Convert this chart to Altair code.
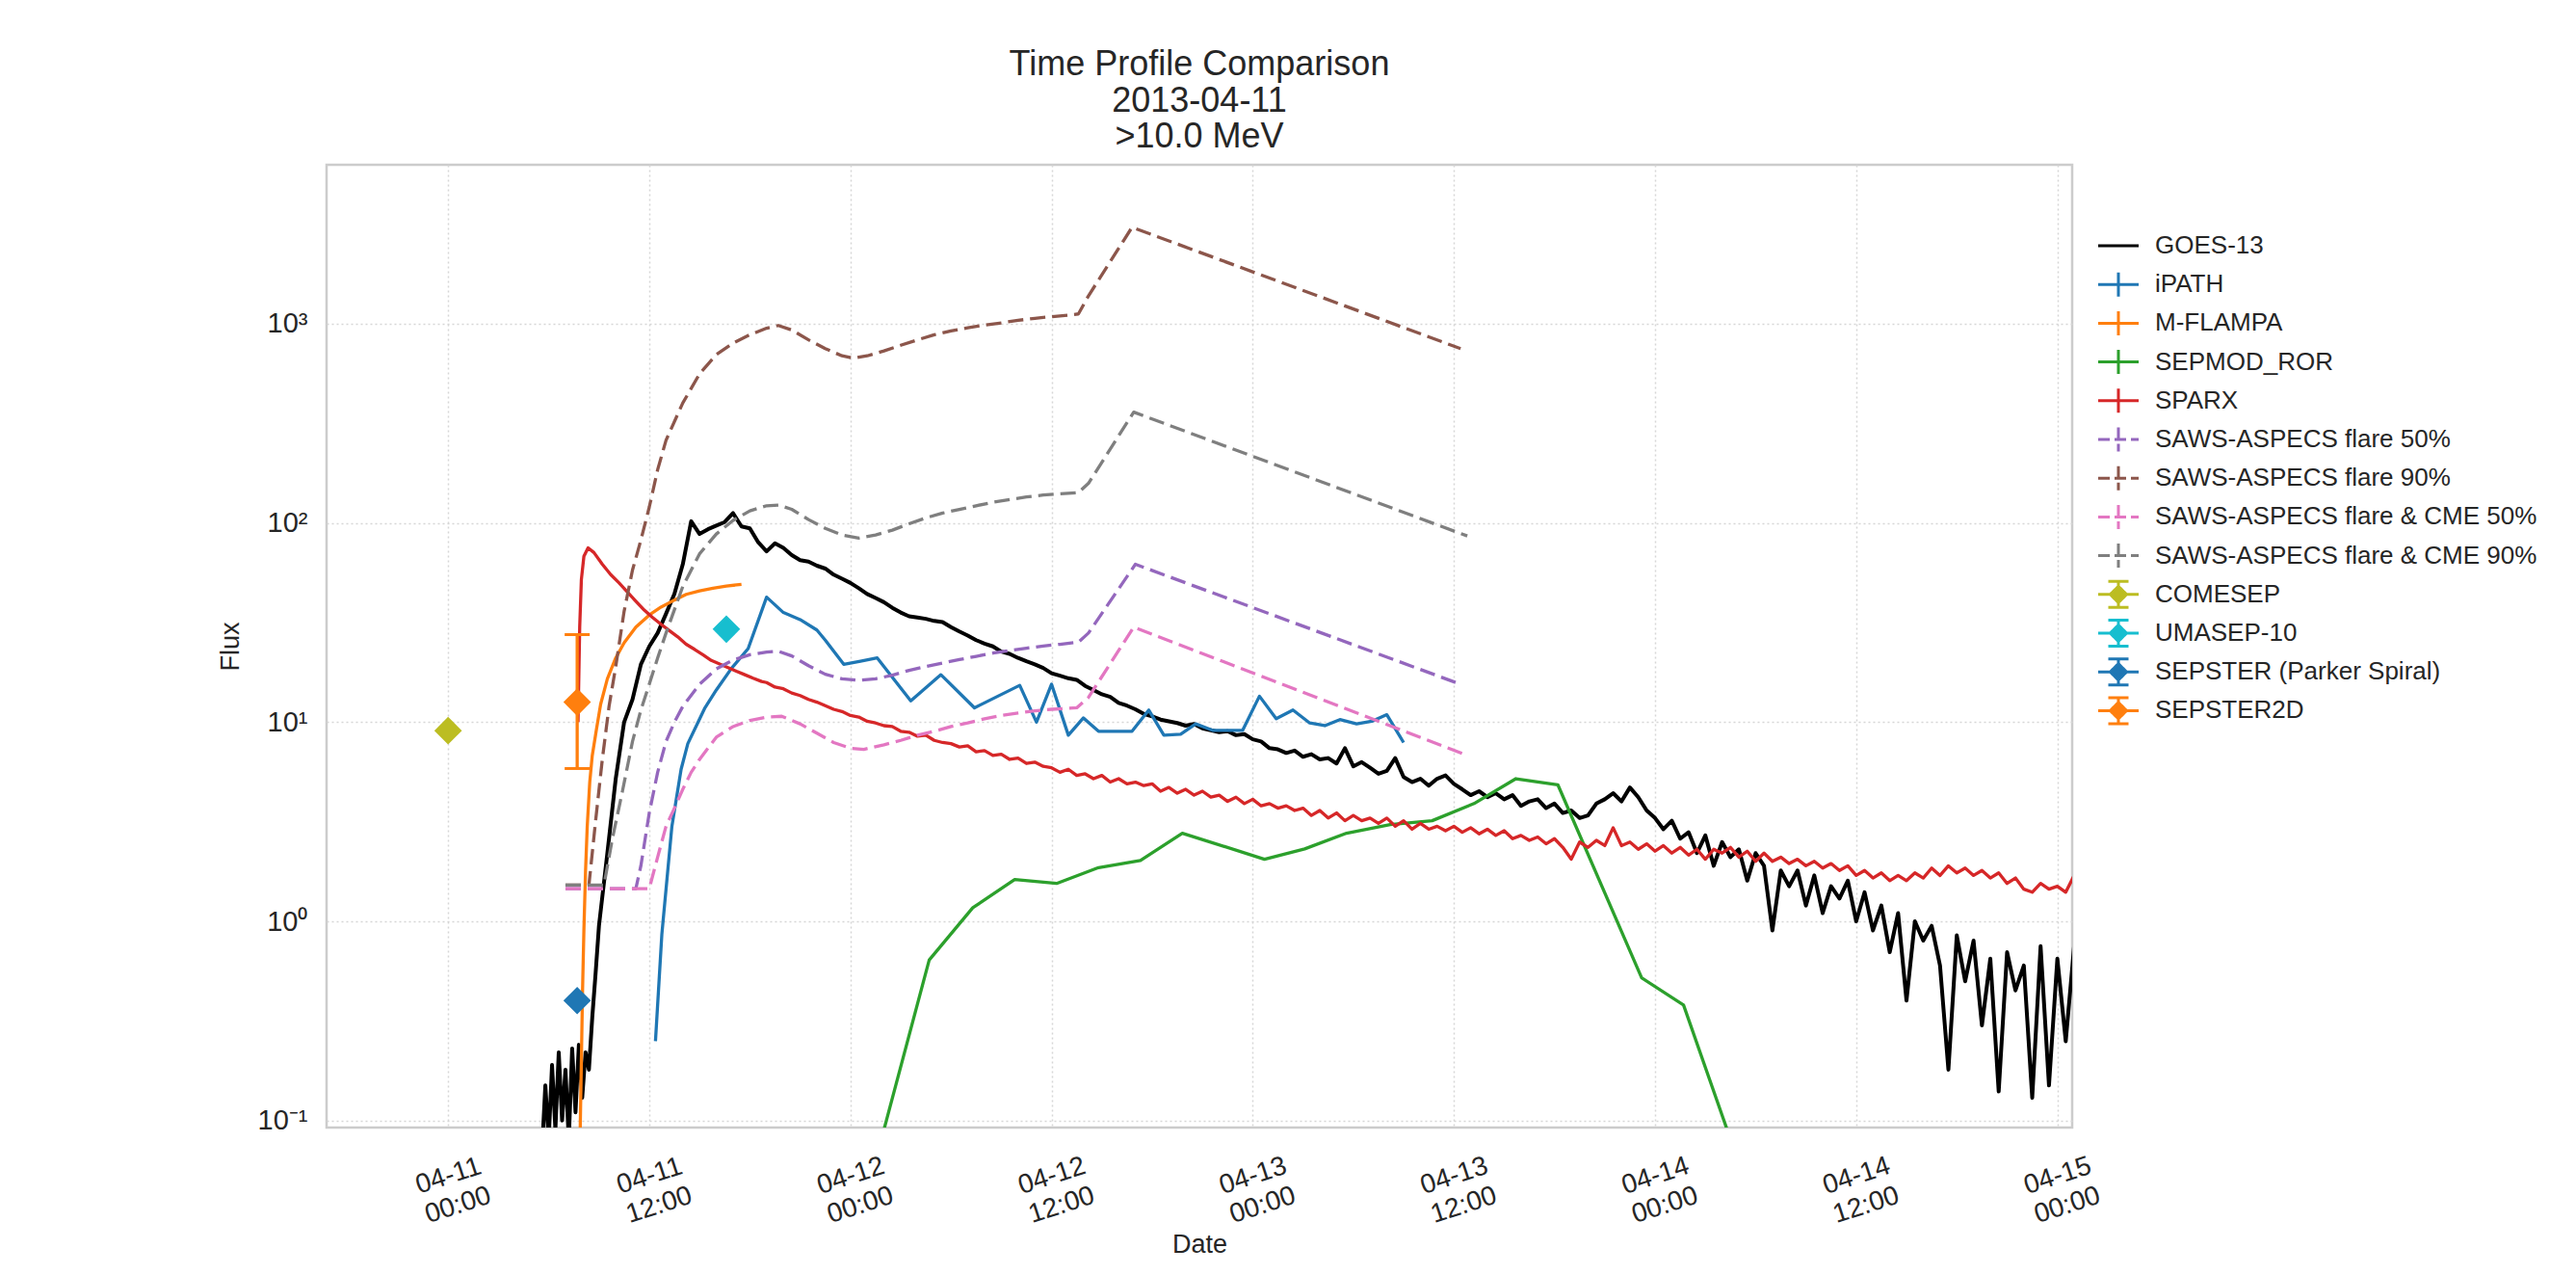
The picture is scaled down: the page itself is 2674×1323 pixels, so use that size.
import altair as alt
import pandas as pd

FONT = "Liberation Sans, Arial, Helvetica, sans-serif"
TXT = "#262626"
T0 = pd.Timestamp("2013-04-11 00:00:00")

SERIES = ["GOES-13", "iPATH", "M-FLAMPA", "SEPMOD_ROR", "SPARX",
          "SAWS-ASPECS flare 50%", "SAWS-ASPECS flare 90%",
          "SAWS-ASPECS flare & CME 50%", "SAWS-ASPECS flare & CME 90%",
          "COMESEP", "UMASEP-10", "SEPSTER (Parker Spiral)", "SEPSTER2D"]
COLORS = ["#000000", "#1f77b4", "#ff7f0e", "#2ca02c", "#d62728",
          "#9467bd", "#8c564b", "#e377c2", "#7f7f7f",
          "#bcbd22", "#17becf", "#1f77b4", "#ff7f0e"]
DASH = [16, 7]

# ---------------- data (hours after 2013-04-11 00:00, flux) ----------------
goes_a_t = [5.6, 5.8, 6.0, 6.2, 6.4, 6.6, 6.8, 7.0, 7.2, 7.4, 7.6, 7.8, 8.0, 8.2, 8.4, 8.6, 8.8]
goes_a_v = [0.07, 0.15, 0.08, 0.19, 0.09, 0.22, 0.10, 0.18, 0.08, 0.23, 0.11, 0.24, 0.13, 0.22, 0.18, 0.33, 0.55]
goes_b_start, goes_b_step = 9.0, 0.5
goes_b_v = [0.95, 2.2, 5.2, 10.0, 13.0, 19.5, 24, 28, 35, 44, 62, 102, 88, 93, 97, 101, 112, 96, 94, 80,
            72, 79, 75, 69, 65, 64, 61, 59, 55, 52.5, 50, 47, 44, 42, 40, 37.5, 35.5, 34, 33.5, 33,
            32.2, 31.8, 30, 28.5, 27.2, 25.8, 24.8, 24, 22.6, 22, 21, 20.2, 19.5, 18.7, 17.6, 17.1, 16.6, 16.3, 15.2, 14.5,
            13.8, 13.4, 12.5, 12.1, 11.6, 11.0, 10.7, 10.3, 10.1, 9.9, 9.6, 9.8, 9.3, 9.1, 8.9, 9.0, 8.6, 8.7, 8.2, 8.0,
            7.4, 7.3, 7.0, 7.2, 6.7, 6.9, 6.5, 6.6, 6.2, 7.4, 6.0, 6.3, 5.9, 5.5, 5.7, 6.6, 5.3, 5.0, 5.2, 4.8,
            5.2, 5.4, 4.9, 4.6, 4.3, 4.5, 4.2, 4.4, 4.1, 4.3, 3.8, 4.0, 4.1, 3.7, 3.9, 3.5, 3.6, 3.3, 3.4, 3.9,
            4.1, 4.4, 4.0, 4.7, 4.2, 3.6, 3.3, 2.9, 3.2, 2.6, 2.8, 2.2, 2.7, 1.9, 2.5, 2.1, 2.3, 1.6, 2.2, 1.9,
            0.9, 1.8, 1.5, 1.8, 1.2, 1.7, 1.1, 1.5, 1.3, 1.6, 1.0, 1.4, 0.9, 1.2, 0.7, 1.1, 0.4, 1.0, 0.8, 0.95,
            0.6, 0.18, 0.85, 0.5, 0.8, 0.3, 0.65, 0.14, 0.7, 0.45, 0.6, 0.13, 0.75, 0.15, 0.65, 0.25, 0.75]

ipath_t = [12.37, 12.75, 13.35, 13.9, 14.3, 15.3, 16.0, 16.9, 17.9, 19.0, 20.0, 21.0, 22.0, 22.5, 23.6, 24.6,
           25.6, 27.6, 29.4, 31.4, 34.1, 35.1, 36.0, 37.0, 37.9, 38.8, 40.8, 41.8, 42.7, 43.7, 44.6, 45.6,
           47.4, 48.4, 49.4, 50.4, 51.4, 52.3, 53.2, 54.2, 55.1, 56.0, 57.0]
ipath_v = [0.25, 0.86, 3.0, 5.8, 7.8, 11.7, 14.5, 18.6, 23.4, 42.4, 35.5, 32.7, 29.0, 25.8, 19.5, 20.2,
           21.0, 12.8, 17.3, 11.8, 15.3, 10.0, 15.5, 8.6, 10.5, 9.0, 9.0, 11.5, 8.6, 8.7, 9.8, 9.1,
           9.1, 13.5, 10.4, 11.5, 9.9, 9.6, 10.3, 9.8, 10.1, 10.9, 7.9]

mflampa_t = [7.88, 7.95, 8.02, 8.1, 8.2, 8.3, 8.45, 8.6, 8.85, 9.1, 9.5, 10.0, 10.5, 11.2, 12.0, 12.7,
             13.5, 14.2, 15.0, 15.8, 16.6, 17.5]
mflampa_v = [0.09, 0.2, 0.45, 0.9, 1.8, 3.0, 5.0, 6.8, 9.2, 12.3, 16.5, 21.0, 25.0, 30.0, 34.5, 37.8,
             41.0, 43.8, 45.6, 47.0, 48.2, 49.2]

sepmod_t = [26.0, 28.7, 31.3, 33.8, 36.3, 38.8, 41.3, 43.8, 48.7, 51.1, 53.6, 56.2, 58.7, 61.2, 63.7,
            66.2, 71.2, 73.7, 76.3]
sepmod_v = [0.09, 0.64, 1.17, 1.62, 1.55, 1.86, 2.02, 2.77, 2.05, 2.31, 2.77, 3.06, 3.2, 3.9, 5.2,
            4.85, 0.52, 0.38, 0.09]

sparx_a_t = [7.75, 7.85, 7.95, 8.1, 8.35, 8.7, 9.2, 9.7, 10.2, 10.7, 11.2, 11.7, 12.2, 12.7, 13.2,
             13.7, 14.2, 14.7, 15.2, 15.7, 16.2, 16.7, 17.2, 17.7, 18.2, 18.7]
sparx_a_v = [10, 30, 52, 68, 75, 71, 62, 55, 50, 45, 40.5, 36.5, 33.5, 31, 28.8,
             26.8, 24.6, 23.2, 21.8, 20.4, 19.6, 18.8, 18.0, 17.3, 16.6, 16.0]
sparx_b_start, sparx_b_step = 19.0, 0.5
sparx_b_v = [15.8, 15.0, 14.7, 14.0, 13.6, 13.0, 12.6, 12.1, 11.6, 11.3, 10.8, 10.6, 10.1, 9.9, 9.6, 9.5,
             9.0, 8.9, 8.5, 8.6, 8.1, 7.9, 7.8, 7.5, 7.6, 7.1, 7.2, 6.8, 6.9, 6.5, 6.6, 6.2,
             6.3, 6.0, 5.9, 5.6, 5.8, 5.4, 5.5, 5.2, 5.4, 5.0, 5.2, 4.9, 5.0, 4.8, 4.9, 4.5,
             4.7, 4.4, 4.6, 4.3, 4.5, 4.2, 4.3, 4.0, 4.2, 3.9, 4.1, 3.8, 3.9, 3.7, 3.8, 3.6,
             3.7, 3.4, 3.6, 3.3, 3.5, 3.2, 3.4, 3.2, 3.3, 3.1, 3.3, 3.0, 3.2, 2.9, 3.1, 2.9,
             3.0, 2.85, 3.0, 2.8, 2.95, 2.75, 2.9, 2.7, 2.85, 2.6, 2.7, 2.55, 2.65, 2.45, 2.6, 2.35,
             2.05, 2.5, 2.35, 2.55, 2.4, 2.95, 2.4, 2.5, 2.3, 2.45, 2.25, 2.4, 2.2, 2.35, 2.15, 2.3,
             2.05, 2.3, 2.2, 2.35, 2.1, 2.25, 2.0, 2.2, 2.0, 2.1, 1.95, 2.05, 1.9, 2.0, 1.85, 1.95,
             1.8, 1.9, 1.7, 1.8, 1.65, 1.75, 1.6, 1.7, 1.6, 1.75, 1.65, 1.85, 1.7, 1.9, 1.75, 1.85,
             1.7, 1.8, 1.65, 1.75, 1.55, 1.65, 1.45, 1.4, 1.55, 1.45, 1.5, 1.4, 1.7]

saws_f50_t = [7.0, 11.2, 11.5, 12.0, 12.5, 13.0, 13.5, 14.0, 15.0, 16.0, 17.0, 18.0, 19.0, 19.7, 20.5,
              21.5, 22.5, 23.5, 24.5, 25.5, 26.5, 27.5, 28.5, 29.5, 30.5, 31.5, 32.5, 33.5, 34.5, 35.5,
              36.5, 37.6, 38.2, 41.0, 60.3]
saws_f50_v = [1.46, 1.46, 1.9, 3.5, 5.6, 8.0, 10.0, 12.0, 15.5, 18.5, 20.5, 21.8, 22.5, 22.7, 21.5,
              19.2, 17.4, 16.5, 16.2, 16.5, 17.2, 18.2, 19.0, 19.8, 20.6, 21.4, 22.2, 22.9, 23.5, 24.1,
              24.6, 25.2, 28.0, 62, 15.6]
saws_f90_t = [7.0, 8.4, 8.8, 9.2, 9.6, 10.0, 10.5, 11.0, 11.5, 12.0, 12.5, 13.0, 14.0, 15.0, 16.0, 17.0,
              18.0, 19.0, 19.7, 20.5, 21.5, 22.5, 23.5, 24.2, 25.0, 26.0, 27.0, 28.0, 29.0, 30.0, 31.0,
              32.0, 33.0, 34.0, 35.0, 36.0, 37.0, 37.6, 38.2, 40.8, 60.4]
saws_f90_v = [1.52, 1.52, 3.2, 6.5, 12, 19, 36, 58, 82, 120, 185, 260, 400, 560, 700, 800,
              880, 950, 980, 930, 830, 750, 690, 672, 690, 730, 780, 830, 880, 920, 955,
              985, 1010, 1040, 1065, 1085, 1105, 1120, 1380, 3050, 750]
saws_c50_t = [7.0, 12.0, 12.5, 13.0, 13.5, 14.0, 14.5, 15.0, 16.0, 17.0, 18.0, 19.0, 19.9, 21.0, 22.0,
              23.0, 24.0, 24.8, 26.0, 27.0, 28.0, 29.0, 30.0, 31.0, 32.0, 33.0, 34.0, 35.0, 36.0, 37.5,
              38.2, 40.9, 60.8]
saws_c50_v = [1.46, 1.46, 2.1, 3.0, 3.7, 4.6, 5.6, 6.5, 8.4, 9.5, 10.2, 10.6, 10.7, 9.8, 8.8,
              7.9, 7.4, 7.3, 7.7, 8.1, 8.6, 9.0, 9.5, 9.9, 10.4, 10.8, 11.1, 11.4, 11.6, 11.8,
              13.3, 30, 6.8]
saws_c90_t = [7.0, 9.3, 9.8, 10.4, 11.0, 11.5, 12.0, 12.5, 13.0, 14.0, 15.0, 16.0, 17.0, 18.0, 19.0,
              19.7, 20.5, 21.5, 22.5, 23.5, 24.5, 25.5, 26.5, 27.5, 28.5, 29.5, 30.5, 31.5, 32.5, 33.5,
              34.5, 35.5, 36.5, 37.6, 38.2, 40.9, 60.8]
saws_c90_v = [1.52, 1.52, 2.6, 4.5, 8.0, 11.5, 15.5, 21, 28, 48, 70, 88, 103, 115, 122,
              123, 117, 104, 94, 87, 84, 87, 92, 99, 106, 112, 117, 122, 127, 131,
              135, 138, 140, 142, 158, 360, 86]

comesep_t, comesep_v = [0.0], [9.06]
umasep_t, umasep_v = [16.6], [29.3]
sepster_t, sepster_v = [7.7], [0.40]
sepster2d_t, sepster2d_v = [7.7], [12.6]
sepster2d_lo, sepster2d_hi = [5.85], [27.5]

# legend glyphs (custom symbol paths, unit = 10 px)
PLAIN_LINE = "M-2.1,0H2.1M0,-1.35L0,-1.35M0,1.35L0,1.35"
LINE_BAR = "M-2.1,0H2.1M0,-1.25V1.25M0,-1.35L0,-1.35M0,1.35L0,1.35"
DIAMOND_BAR = "M-2.1,0H2.1M0,-1.35V1.35M-1.05,-1.35H1.05M-1.05,1.35H1.05M0,-0.85L0.85,0L0,0.85L-0.85,0Z"
LEGEND_PATHS = [PLAIN_LINE] + [LINE_BAR] * 8 + [DIAMOND_BAR] * 4
LEGEND_DASHES = [[1, 0]] * 5 + [[12, 5]] * 4 + [[1, 0]] * 4


# ---------------- helpers ----------------
def iso(hours):
    return [(T0 + pd.Timedelta(hours=float(h))).strftime("%Y-%m-%dT%H:%M:%S") for h in hours]


def frame(hours, values, **extra):
    d = {"time": iso(hours), "flux": values}
    d.update(extra)
    return pd.DataFrame(d)


goes_t = goes_a_t + [goes_b_start + goes_b_step * i for i in range(len(goes_b_v))]
goes_v = goes_a_v + goes_b_v
sparx_t = sparx_a_t + [sparx_b_start + sparx_b_step * i for i in range(len(sparx_b_v))]
sparx_v = sparx_a_v + sparx_b_v

tick_vals = [alt.DateTime(year=2013, month=4, date=11 + k // 2, hours=12 * (k % 2)) for k in range(9)]

x_enc = alt.X(
    "time:T",
    scale=alt.Scale(domain=[alt.DateTime(year=2013, month=4, date=10, hours=16, minutes=45),
                            alt.DateTime(year=2013, month=4, date=15, hours=0, minutes=53)]),
    axis=alt.Axis(values=tick_vals,
                  labelExpr="[timeFormat(datum.value, '%m-%d'), timeFormat(datum.value, '%H:%M')]",
                  labelAngle=-18, labelAlign="center", labelBaseline="middle", labelPadding=50,
                  labelLineHeight=32, labelFontSize=28, labelOverlap=False, labelFlush=False,
                  labelBound=False, titleY=121, titleBaseline="middle"),
    title="Date",
)
y_enc = alt.Y(
    "flux:Q",
    scale=alt.Scale(type="log", domain=[0.0922, 6280]),
    axis=alt.Axis(values=[0.1, 1, 10, 100, 1000],
                  labelExpr="'10' + (datum.value < 0.5 ? '⁻¹' : datum.value < 5 ? '⁰' : datum.value < 50 ? '¹' : datum.value < 500 ? '²' : '³')",
                  labelPadding=20, labelFontSize=29, titleX=-100, titleY=499.5, titleAngle=270,
                  titleAlign="center", titleBaseline="middle"),
    title="Flux",
)


def line(df, color, width=3.3, dash=None):
    kw = dict(color=color, strokeWidth=width, clip=True, strokeJoin="round")
    if dash:
        kw["strokeDash"] = dash
    return alt.Chart(df).mark_line(**kw).encode(x=x_enc, y=y_enc)


def diamond(df, color):
    return alt.Chart(df).mark_point(shape="diamond", filled=True, size=820, color=color,
                                    opacity=1, clip=True).encode(x=x_enc, y=y_enc)


layers = [
    line(frame(goes_t, goes_v), COLORS[0], 4.0),
    line(frame(ipath_t, ipath_v), COLORS[1]),
    line(frame(mflampa_t, mflampa_v), COLORS[2]),
    line(frame(sepmod_t, sepmod_v), COLORS[3]),
    line(frame(sparx_t, sparx_v), COLORS[4]),
    line(frame(saws_f50_t, saws_f50_v), COLORS[5], dash=DASH),
    line(frame(saws_f90_t, saws_f90_v), COLORS[6], dash=DASH),
    line(frame(saws_c50_t, saws_c50_v), COLORS[7], dash=DASH),
    line(frame(saws_c90_t, saws_c90_v), COLORS[8], dash=DASH),
    diamond(frame(comesep_t, comesep_v), COLORS[9]),
    diamond(frame(umasep_t, umasep_v), COLORS[10]),
    diamond(frame(sepster_t, sepster_v), COLORS[11]),
    alt.Chart(frame(sepster2d_t, sepster2d_lo, hi=sepster2d_hi)).mark_rule(
        color=COLORS[12], strokeWidth=3.3).encode(x=x_enc, y=y_enc, y2="hi:Q"),
    alt.Chart(frame(sepster2d_t * 2, sepster2d_lo + sepster2d_hi)).mark_tick(
        color=COLORS[12], orient="horizontal", size=26, thickness=3, opacity=1).encode(x=x_enc, y=y_enc),
    diamond(frame(sepster2d_t, sepster2d_v), COLORS[12]),
]

legend_df = pd.DataFrame({"series": SERIES, "time": [None] * len(SERIES), "flux": [None] * len(SERIES)})
legend_layer = alt.Chart(legend_df).mark_point(filled=True, size=400, strokeWidth=3, opacity=1).encode(
    x=x_enc, y=y_enc,
    color=alt.Color("series:N", scale=alt.Scale(domain=SERIES, range=COLORS),
                    legend=alt.Legend(title=None, orient="none", legendX=1847, legendY=71)),
    stroke=alt.Stroke("series:N", scale=alt.Scale(domain=SERIES, range=COLORS), legend=alt.Legend(title=None)),
    shape=alt.Shape("series:N", scale=alt.Scale(domain=SERIES, range=LEGEND_PATHS), legend=alt.Legend(title=None)),
    strokeDash=alt.StrokeDash("series:N", scale=alt.Scale(domain=SERIES, range=LEGEND_DASHES),
                              legend=alt.Legend(title=None)),
)
layers.append(legend_layer)

chart = alt.layer(*layers).properties(
    width=1812, height=999,
    title=alt.TitleParams(text=["Time Profile Comparison", "2013-04-11", ">10.0 MeV"]),
    padding={"left": 331, "top": 163, "right": 500, "bottom": 140},
    autosize=alt.AutoSizeParams(type="none"),
).configure_view(
    stroke="#cccccc", strokeWidth=2.5,
).configure_axis(
    grid=True, gridColor="#d6d6d6", gridDash=[2, 3], gridWidth=1.5,
    domain=False, ticks=False,
    labelFont=FONT, labelFontSize=28, labelColor=TXT,
    titleFont=FONT, titleFontSize=27, titleFontWeight="normal", titleColor=TXT,
).configure_legend(
    labelFont=FONT, labelFontSize=26, labelColor=TXT, labelLimit=1000,
    rowPadding=0.2, padding=0, symbolSize=400, symbolStrokeWidth=3,
    labelOffset=25, symbolOffset=0,
).configure_title(
    font=FONT, fontSize=36, fontWeight="normal", color=TXT, anchor="middle",
    frame="group", lineHeight=37.5, offset=10,
)

chart.save("out.html", embed_options={"renderer": "svg", "actions": False})
